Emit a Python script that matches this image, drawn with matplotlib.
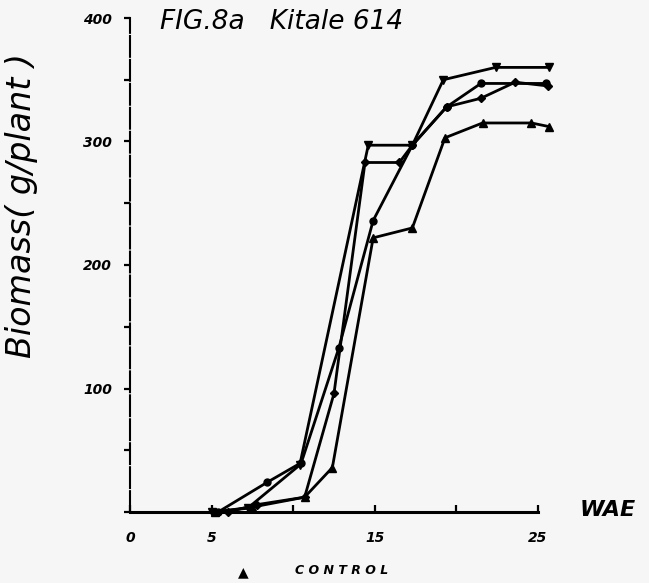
import matplotlib
matplotlib.use("Agg")
import matplotlib.pyplot as plt
from matplotlib.ticker import MultipleLocator, FixedLocator

# ---- data ----
s1_x = [5.0, 7.2, 10.4, 14.6, 17.3, 19.2, 22.4, 25.7]
s1_y = [0, 3, 38, 297, 297, 350, 360, 360]

s2_x = [5.4, 8.4, 10.5, 12.8, 14.9, 17.3, 19.4, 21.5, 25.5]
s2_y = [0, 24, 40, 133, 236, 297, 328, 347, 347]

s3_x = [6.0, 7.8, 10.7, 12.5, 14.4, 16.5, 17.3, 19.4, 21.5, 23.6, 25.6]
s3_y = [0, 6, 12, 96, 283, 283, 297, 328, 335, 348, 345]

control_x = [5.2, 7.5, 10.7, 12.4, 14.9, 17.3, 19.3, 21.6, 24.6, 25.7]
control_y = [0, 4, 12, 36, 222, 230, 303, 315, 315, 312]

y_ticks_labeled = [100, 200, 300, 400]
y_tick_labels = ["100", "200", "300", "400"]
x_ticks_labeled = [0, 5, 15, 25]
x_tick_labels = ["0", "5", "15", "25"]

# ---- figure ----
W, H = 649, 583
fig = plt.figure(figsize=(W / 100, H / 100), dpi=100, facecolor="#f6f6f6")
ax = fig.add_axes([130 / W, 71 / H, 408 / W, 494 / H])
ax.set_facecolor("none")
ax.set_xlim(0, 25)
ax.set_ylim(0, 400)

lw = 2.0
ax.plot(s1_x, s1_y, color="black", lw=lw, marker="v", ms=6, clip_on=False)
ax.plot(s2_x, s2_y, color="black", lw=lw, marker="o", ms=5, clip_on=False)
ax.plot(s3_x, s3_y, color="black", lw=lw, marker="D", ms=4, clip_on=False)
ax.plot(control_x, control_y, color="black", lw=lw, marker="^", ms=6, clip_on=False)

for s in ["top", "right"]:
    ax.spines[s].set_visible(False)
ax.spines["bottom"].set_linewidth(2.2)
ax.spines["left"].set_linewidth(1.5)
ax.spines["left"].set_linestyle((0, (10, 1.5)))

# y ticks
ax.yaxis.set_major_locator(FixedLocator(y_ticks_labeled))
ax.set_yticklabels(y_tick_labels)
ax.yaxis.set_minor_locator(MultipleLocator(50))
ax.tick_params(axis="y", which="both", direction="out", length=4, width=1.6, pad=9)
for t in ax.get_yticklabels():
    t.set_fontsize(10)
    t.set_fontstyle("italic")
    t.set_fontweight("bold")

# x ticks
ax.xaxis.set_major_locator(FixedLocator(x_ticks_labeled))
ax.set_xticklabels(x_tick_labels)
ax.xaxis.set_minor_locator(FixedLocator([10, 20]))
ax.tick_params(axis="x", which="both", direction="in", length=5, width=1.6, pad=14)
for t in ax.get_xticklabels():
    t.set_fontsize(10)
    t.set_fontstyle("italic")
    t.set_fontweight("bold")

# texts
fig.text(160 / W, 1 - 22 / H, "FIG.8a   Kitale 614", fontsize=19, fontstyle="italic",
         ha="left", va="center")
fig.text(22 / W, 1 - 205 / H, "Biomass( g/plant )", fontsize=24, fontstyle="italic",
         rotation=90, ha="center", va="center")
fig.text(580 / W, 1 - 510 / H, "WAE", fontsize=16, fontstyle="italic", fontweight="bold",
         ha="left", va="center")
fig.text(243 / W, 1 - 572 / H, "\u25B2", fontsize=10, ha="center", va="center")
fig.text(295 / W, 1 - 571 / H, "C O N T R O L", fontsize=9, fontstyle="italic",
         fontweight="bold", ha="left", va="center")

fig.savefig("out.png", dpi=100, facecolor=fig.get_facecolor())
